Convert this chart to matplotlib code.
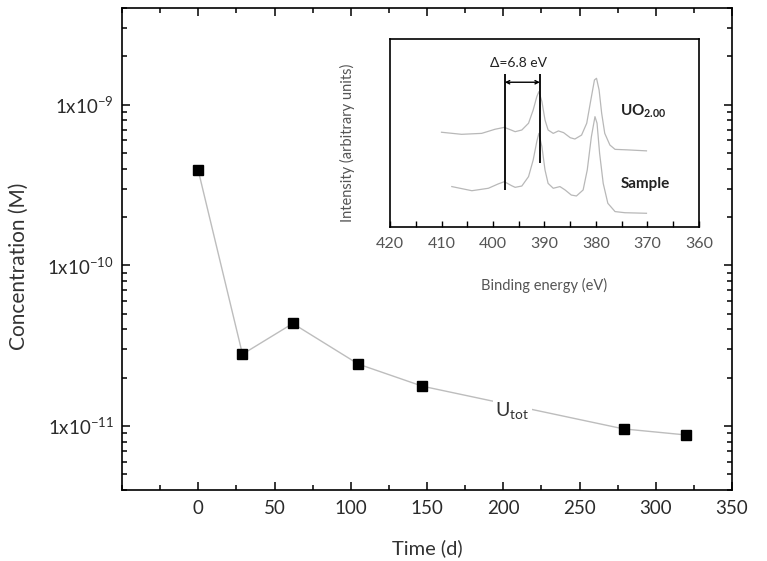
import numpy as np
import matplotlib
matplotlib.use('Agg')
import matplotlib.pyplot as plt
from matplotlib.ticker import MultipleLocator, LogLocator, FixedLocator, NullFormatter

plt.rcParams['font.family'] = ['Lato', 'DejaVu Sans']
plt.rcParams['mathtext.default'] = 'regular'

# main series: total U concentration vs time
time_d = [0, 29, 62, 105, 147, 279, 320]
conc_M = [3.9e-10, 2.8e-11, 4.35e-11, 2.43e-11, 1.77e-11, 9.6e-12, 8.8e-12]
ytick_vals = [1e-11, 1e-10, 1e-9]
ytick_labels = [r'$\mathregular{1x10^{-11}}$', r'$\mathregular{1x10^{-10}}$',
                r'$\mathregular{1x10^{-9}}$']

# inset: XPS spectra (binding energy in eV, intensity in arbitrary units)
uo2_E = [410.0, 406.1, 402.2, 399.6, 397.8, 396.4, 395.7, 394.4, 393.1, 392.2,
         391.5, 391.1, 390.5, 389.9, 389.3, 388.3, 387.3, 386.3, 385.0, 384.1,
         382.8, 381.8, 381.0, 380.3, 379.9, 379.4, 378.9, 378.3, 377.3, 376.3,
         373.7, 370.2]
uo2_I = [0.504, 0.493, 0.498, 0.520, 0.530, 0.515, 0.507, 0.516, 0.552, 0.622,
         0.693, 0.720, 0.667, 0.569, 0.516, 0.498, 0.511, 0.502, 0.475, 0.468,
         0.489, 0.552, 0.676, 0.782, 0.791, 0.729, 0.605, 0.498, 0.436, 0.413,
         0.410, 0.405]
sample_E = [408.0, 404.1, 400.9, 399.0, 397.8, 396.4, 395.7, 394.4, 393.1, 392.2,
            391.5, 391.1, 390.5, 389.9, 389.3, 388.3, 387.0, 386.0, 384.8, 383.8,
            382.5, 381.7, 380.9, 380.2, 379.8, 379.3, 378.6, 377.7, 376.3, 374.4,
            370.2]
sample_I = [0.215, 0.193, 0.206, 0.229, 0.241, 0.220, 0.211, 0.218, 0.268, 0.356,
            0.454, 0.498, 0.427, 0.303, 0.232, 0.206, 0.215, 0.197, 0.170, 0.165,
            0.197, 0.303, 0.480, 0.587, 0.552, 0.392, 0.232, 0.126, 0.082, 0.076,
            0.073]
peak_marks = [397.7, 390.9]
mark_top = [0.812, 0.812]
mark_bottom = [0.197, 0.339]

fig = plt.figure(figsize=(7.67, 5.61), dpi=100)
ax = fig.add_axes([122 / 767, 71 / 561, 610 / 767, 482 / 561])

ax.plot(time_d, conc_M, '-', color='#bdbdbd', lw=1.0, zorder=2)
ax.plot(time_d, conc_M, 's', color='black', ms=7.5, zorder=3)
ax.set_yscale('log')
ax.set_xlim(-50, 350)
ax.set_ylim(4e-12, 4e-9)

ax.xaxis.set_major_locator(FixedLocator([0, 50, 100, 150, 200, 250, 300, 350]))
ax.xaxis.set_minor_locator(MultipleLocator(25))
ax.yaxis.set_major_locator(FixedLocator(ytick_vals))
ax.set_yticklabels(ytick_labels)
ax.yaxis.set_minor_locator(LogLocator(base=10, subs=np.arange(2, 10)))
ax.yaxis.set_minor_formatter(NullFormatter())
ax.tick_params(which='both', direction='in', top=True, right=True,
               width=1.1, colors='black', labelcolor='#2a2a2a', labelsize=13.5)
ax.tick_params(which='major', length=6)
ax.tick_params(which='minor', length=3.6)
ax.tick_params(axis='x', pad=7)
ax.tick_params(axis='y', pad=6)
for sp in ax.spines.values():
    sp.set_linewidth(1.2)

ax.set_xlabel('Time (d)', fontsize=14.5, color='#333333')
ax.set_ylabel('Concentration (M)', fontsize=15, color='#333333')
ax.xaxis.set_label_coords(0.5, -0.102)
ax.yaxis.set_label_coords(-0.153, 0.465)

ax.text(206, 1.25e-11, r'$\mathregular{U_{tot}}$', fontsize=14, color='#333333',
        ha='center', va='center', zorder=4,
        bbox=dict(facecolor='white', edgecolor='none', pad=1.5))

# inset with the spectra
ins = fig.add_axes([390 / 767, 334 / 561, 309 / 767, 188 / 561])
ins.plot(uo2_E, uo2_I, color='#b8b8b8', lw=0.9)
ins.plot(sample_E, sample_I, color='#b8b8b8', lw=0.9)
ins.set_xlim(420, 360)
ins.set_ylim(0, 1)
ins.vlines(peak_marks, mark_bottom, mark_top, color='black', lw=1.3)
ins.annotate('', xy=(peak_marks[0], 0.77), xytext=(peak_marks[1], 0.77),
             arrowprops=dict(arrowstyle='<->', color='black', lw=1.0,
                             mutation_scale=6, shrinkA=0, shrinkB=0))
ins.text(395.1, 0.874, '\u0394=6.8 eV', fontsize=10, color='#222222',
         ha='center', va='center')
ins.text(375.3, 0.615, r'$\mathregular{UO_{2.00}}$', fontsize=11,
         fontweight='bold', color='#222222', ha='left', va='center')
ins.text(375.3, 0.229, 'Sample', fontsize=11, fontweight='bold',
         color='#222222', ha='left', va='center')

ins.xaxis.set_major_locator(MultipleLocator(10))
ins.xaxis.set_minor_locator(MultipleLocator(5))
ins.set_yticks([])
ins.tick_params(axis='x', which='both', direction='in', length=4, width=1.0,
                labelsize=11.5, labelcolor='#555555', pad=7)
for sp in ins.spines.values():
    sp.set_linewidth(1.2)
ins.set_xlabel('Binding energy (eV)', fontsize=10.5, color='#555555')
ins.set_ylabel('Intensity (arbitrary units)', fontsize=10.5, color='#555555')
ins.xaxis.set_label_coords(0.5, -0.27)
ins.yaxis.set_label_coords(-0.113, 0.447)

fig.savefig('out.png', dpi=100)
